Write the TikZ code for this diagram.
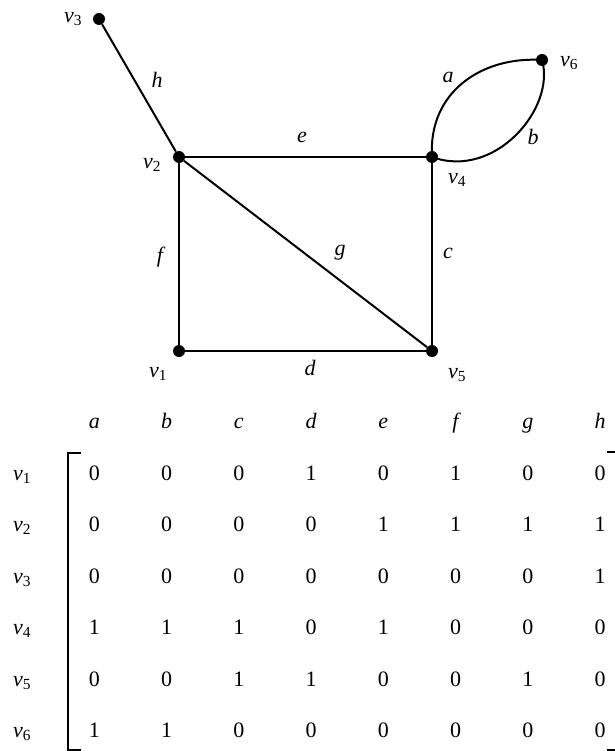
\documentclass[tikz,border=0pt]{standalone}
\usepackage{fontspec}
\setmainfont{Liberation Serif}
\usetikzlibrary{matrix}
\newcommand{\vtx}[1]{\textit{v}\textsubscript{\upshape #1}}

\begin{document}
\begin{tikzpicture}[x=1pt,y=-1pt,
dot/.style={circle,fill,inner sep=0pt,minimum size=12pt},
edge/.style={line width=2pt},
lbl/.style={font=\fontsize{22}{26}\selectfont\itshape,inner sep=1pt},
entry/.style={font=\fontsize{22}{26}\selectfont,text height=15pt,text depth=5pt,minimum width=72.25pt,minimum height=51.5pt,inner sep=0pt,anchor=center}]
\useasboundingbox (0,0) rectangle (614,751);
% graph
\node[dot] (v1) at (179,351) {};
\node[dot] (v2) at (179,157) {};
\node[dot] (v3) at (99,19) {};
\node[dot] (v4) at (432,157) {};
\node[dot] (v5) at (432,351) {};
\node[dot] (v6) at (542,60) {};
\draw[edge] (v3) -- (v2);
\draw[edge] (v2) -- (v4);
\draw[edge] (v2) -- (v1);
\draw[edge] (v2) -- (v5);
\draw[edge] (v4) -- (v5);
\draw[edge] (v1) -- (v5);
\draw[edge] (v4.center) .. controls (428,92) and (482,56) .. (v6.center)
  .. controls (556,108) and (495,180) .. (v4.center);
\node[lbl] (lv1) at (158,374) {\vtx{1}};
\node[lbl] (lv2) at (152,165) {\vtx{2}};
\node[lbl] (lv3) at (73,19) {\vtx{3}};
\node[lbl] (lv4) at (457,180) {\vtx{4}};
\node[lbl] (lv5) at (457,375) {\vtx{5}};
\node[lbl] (lv6) at (569,63) {\vtx{6}};
\node[lbl] (la) at (448,77) {a};
\node[lbl] (lb) at (533,137) {b};
\node[lbl] (lc) at (448,253) {c};
\node[lbl] (ld) at (310,368) {d};
\node[lbl] (le) at (302,137) {e};
\node[lbl] (lf) at (160,257) {f};
\node[lbl] (lg) at (340,253) {g};
\node[lbl] (lh) at (157,80) {h};
% incidence matrix
\matrix (inc) at (311,578) [matrix of nodes,nodes={entry},
  row 1/.style={nodes={font=\fontsize{22}{26}\selectfont\itshape}}] {
        & a & b & c & d & e & f & g & h \\
\vtx{1} & 0 & 0 & 0 & 1 & 0 & 1 & 0 & 0 \\
\vtx{2} & 0 & 0 & 0 & 0 & 1 & 1 & 1 & 1 \\
\vtx{3} & 0 & 0 & 0 & 0 & 0 & 0 & 0 & 1 \\
\vtx{4} & 1 & 1 & 1 & 0 & 1 & 0 & 0 & 0 \\
\vtx{5} & 0 & 0 & 1 & 1 & 0 & 0 & 1 & 0 \\
\vtx{6} & 1 & 1 & 0 & 0 & 0 & 0 & 0 & 0 \\
};
\draw[line width=1.6pt] (81,453) -- (68,453) -- (68,750) -- (81,750);
\draw[line width=1.6pt] (607,452) -- (616,452) -- (616,750) -- (607,750);
\end{tikzpicture}
\end{document}
